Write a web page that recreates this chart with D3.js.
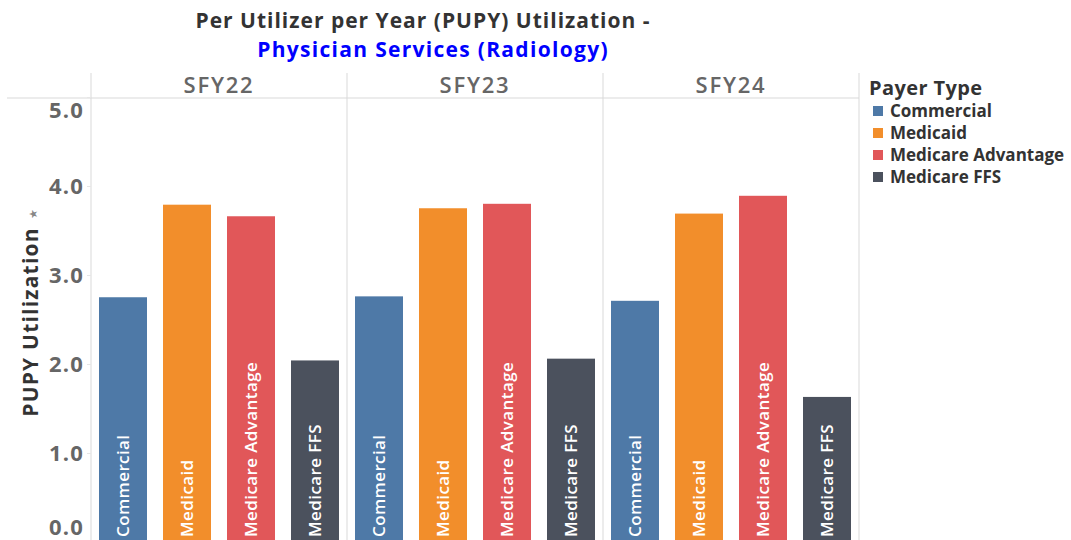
<!DOCTYPE html>
<html>
<head>
<meta charset="utf-8">
<script src="https://cdn.jsdelivr.net/npm/d3@7"></script>
<style>
  html, body { margin: 0; padding: 0; background: #fff; }
  svg { display: block; }
  text { font-family: "Open Sans", "DejaVu Sans", sans-serif; }
</style>
</head>
<body>
<svg id="chart" width="1071" height="540"></svg>
<script>
// Fiscal-year panels, payer types and PUPY values per panel
const years = ["SFY22", "SFY23", "SFY24"];
const payers = ["Commercial", "Medicaid", "Medicare Advantage", "Medicare FFS"];
const colors = ["#4E79A7", "#F28E2B", "#E15759", "#4B515D"];
const sfy22 = [2.75, 3.79, 3.66, 2.04];
const sfy23 = [2.76, 3.75, 3.80, 2.06];
const sfy24 = [2.71, 3.69, 3.89, 1.63];
const yTicks = [0, 1, 2, 3, 4, 5];

const values = [sfy22, sfy23, sfy24];
const rows = [];
years.forEach((yr, i) => payers.forEach((p, j) => rows.push({ year: yr, payer: p, value: values[i][j] })));

const svg = d3.select("#chart");
const plotLeft = 91, plotRight = 859, paneTop = 98, headerTop = 73;

const y = d3.scaleLinear().domain([0, 5]).range([542, 97]);
const panel = d3.scaleBand().domain(years).range([plotLeft, plotRight]);
const x = d3.scaleBand().domain(payers).range([0, panel.bandwidth()])
  .paddingInner(0.25).paddingOuter(0.125);
const color = d3.scaleOrdinal().domain(payers).range(colors);

// Title
const title = svg.append("text").attr("text-anchor", "middle")
  .attr("font-weight", 700).attr("font-size", 21).attr("letter-spacing", 1);
title.append("tspan").attr("x", 423).attr("y", 28).attr("fill", "#333")
  .text("Per Utilizer per Year (PUPY) Utilization -");
title.append("tspan").attr("x", 433).attr("y", 57).attr("fill", "#0000FF")
  .attr("letter-spacing", 1.3)
  .text("Physician Services (Radiology)");

// Header row line and panel separators
svg.append("line").attr("x1", 7).attr("x2", plotRight).attr("y1", paneTop).attr("y2", paneTop)
  .attr("stroke", "#d9d9d9");
const seps = years.map(d => panel(d)).concat([plotRight]);
svg.selectAll("line.sep").data(seps).join("line").attr("class", "sep")
  .attr("x1", d => d).attr("x2", d => d).attr("y1", headerTop).attr("y2", 540)
  .attr("stroke", "#d9d9d9");

// Panel headers
svg.selectAll("text.hdr").data(years).join("text").attr("class", "hdr")
  .attr("x", d => panel(d) + panel.bandwidth() / 2).attr("y", 93)
  .attr("text-anchor", "middle").attr("font-size", 22).attr("font-weight", 600)
  .attr("letter-spacing", 1.8).attr("fill", "#666").text(d => d);

// Y axis
const yAxis = d3.axisLeft(y).tickValues(yTicks).tickFormat(d3.format(".1f")).tickSize(4).tickPadding(3);
const ga = svg.append("g").attr("transform", `translate(${plotLeft},0)`).call(yAxis);
ga.select(".domain").remove();
ga.selectAll(".tick line").attr("stroke", "#e6e6e6");
ga.selectAll(".tick text").attr("font-size", 22).attr("font-weight", 700).attr("fill", "#666")
  .attr("font-family", "'Open Sans', sans-serif").attr("letter-spacing", 1.2)
  .attr("dy", d => d === 5 ? "0.95em" : d === 0 ? "-0.32em" : "0.33em");

// Y axis title
svg.append("text").attr("transform", "translate(38,322) rotate(-90)")
  .attr("text-anchor", "middle").attr("font-size", 21).attr("font-weight", 700)
  .attr("letter-spacing", 1.2).attr("fill", "#333").text("PUPY Utilization");
svg.append("text").attr("transform", "translate(37,214) rotate(-90)")
  .attr("text-anchor", "middle").attr("font-size", 11).attr("fill", "#888").text("★");

// Bars
const g = svg.append("g");
g.selectAll("rect.bar").data(rows).join("rect").attr("class", "bar")
  .attr("x", d => panel(d.year) + x(d.payer)).attr("width", x.bandwidth())
  .attr("y", d => y(d.value)).attr("height", d => y(0) - y(d.value))
  .attr("fill", d => color(d.payer));

// Bar labels inside, reading upward from the base
g.selectAll("text.lbl").data(rows).join("text").attr("class", "lbl")
  .attr("transform", d => `translate(${panel(d.year) + x(d.payer) + x.bandwidth() / 2 + 6},${y(0) - 5}) rotate(-90)`)
  .attr("font-size", 17).attr("font-weight", 600).attr("letter-spacing", 0.4).attr("fill", "#fff")
  .text(d => d.payer);

// Legend
const lg = svg.append("g").attr("transform", "translate(869,0)");
lg.append("text").attr("x", 0).attr("y", 95).attr("font-size", 20).attr("font-weight", 700)
  .attr("letter-spacing", 0.4).attr("fill", "#333").text("Payer Type");
const li = lg.selectAll("g.item").data(payers).join("g").attr("class", "item")
  .attr("transform", (d, i) => `translate(0,${111 + i * 22})`);
li.append("rect").attr("x", 4).attr("y", -5).attr("width", 10).attr("height", 10)
  .attr("fill", d => color(d));
li.append("text").attr("x", 21).attr("y", 6).attr("font-size", 17).attr("font-weight", 700)
  .attr("fill", "#333").text(d => d);
</script>
</body>
</html>
